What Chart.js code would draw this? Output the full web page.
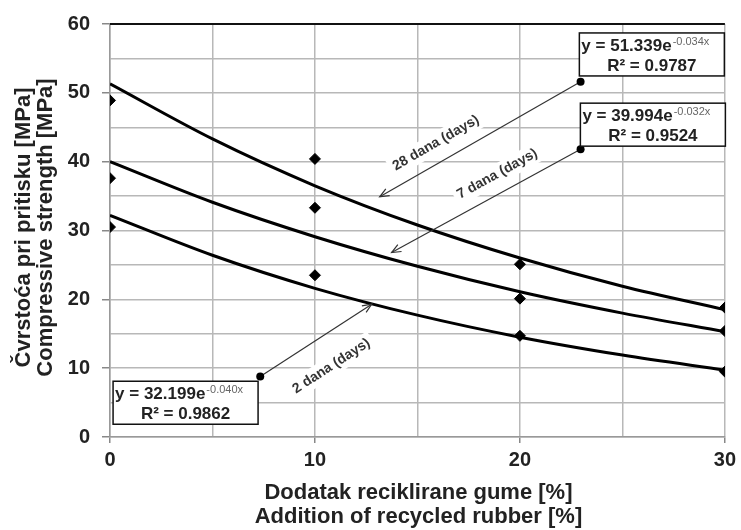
<!DOCTYPE html>
<html>
<head>
<meta charset="utf-8">
<script src="https://cdn.jsdelivr.net/npm/chart.js@4/dist/chart.umd.min.js"></script>
<style>
  body { margin: 0; background: #fff; }
  #wrap { width: 741px; height: 530px; }
</style>
</head>
<body>
<div id="wrap"><canvas id="rubber-chart" width="741" height="530"></canvas></div>
<script>
// rubber dosage [%] and measured strengths [MPa]
const rubber = [0, 10, 20, 30];
const days28 = [48.9, 40.4, 25.1, 18.8];
const days7 = [37.6, 33.3, 20.1, 15.4];
const days2 = [30.5, 23.5, 14.7, 9.5];

// trend lines
const trendX = [0, 5, 10, 15, 20, 25, 30];
const trend28 = [51.3, 43.3, 36.5, 30.8, 26.0, 21.9, 18.5];
const trend7 = [40.0, 34.1, 29.1, 24.8, 21.1, 18.0, 15.3];
const trend2 = [32.2, 26.4, 21.6, 17.7, 14.5, 11.9, 9.7];

const yTicks = [0, 10, 20, 30, 40, 50, 60];
const xTicks = [0, 10, 20, 30];

const yTitle = ["Čvrstoća pri pritisku [MPa]", "Compressive strength [MPa]"];
const xTitle = ["Dodatak reciklirane gume [%]", "Addition of recycled rubber [%]"];

// equation boxes + arrows (positions in data units)
const notes = [
  { eq: "y = 51.339e", exp: "-0.034x", r2: "R² = 0.9787", box: [22.9, 58.7], dot: [22.96, 51.6], head: [13.16, 34.9], label: "28 dana (days)", labelAt: [15.9, 42.7], angle: -30 },
  { eq: "y = 39.994e", exp: "-0.032x", r2: "R² = 0.9524", box: [22.95, 48.5], dot: [22.96, 41.8], head: [13.74, 26.8], label: "7 dana (days)", labelAt: [18.9, 38.2], angle: -29 },
  { eq: "y = 32.199e", exp: "-0.040x", r2: "R² = 0.9862", box: [0.15, 8.1], dot: [7.33, 8.8], head: [12.77, 19.3], label: "2 dana (days)", labelAt: [10.8, 10.3], angle: -33 }
];

const FONT = '"Liberation Sans", Arial, sans-serif';

function pts(xs, ys) {
  return xs.map((x, i) => ({ x: x, y: ys[i] }));
}

function markerSet(data) {
  return {
    data: pts(rubber, data),
    showLine: false,
    pointStyle: "rectRot",
    pointRadius: 5.5,
    pointBackgroundColor: "#000",
    pointBorderColor: "#000",
    order: 0
  };
}

function trendSet(data) {
  return {
    data: pts(trendX, data),
    showLine: true,
    borderColor: "#000",
    borderWidth: 3,
    pointRadius: 0,
    cubicInterpolationMode: "monotone",
    fill: false,
    order: 1
  };
}

// arrows, labels and equation boxes
const notesPlugin = {
  id: "notes",
  afterDatasetsDraw(chart) {
    const c = chart.ctx, xs = chart.scales.x, ys = chart.scales.y;
    const area = chart.chartArea;
    c.save();
    // dark top border
    c.strokeStyle = "#111";
    c.lineWidth = 2;
    c.beginPath();
    c.moveTo(area.left, area.top);
    c.lineTo(area.right, area.top);
    c.stroke();

    notes.forEach(n => {
      const dx = xs.getPixelForValue(n.dot[0]), dy = ys.getPixelForValue(n.dot[1]);
      const hx = xs.getPixelForValue(n.head[0]), hy = ys.getPixelForValue(n.head[1]);

      // rotated label with white background
      const lx = xs.getPixelForValue(n.labelAt[0]), ly = ys.getPixelForValue(n.labelAt[1]);
      c.save();
      c.translate(lx, ly);
      c.rotate(n.angle * Math.PI / 180);
      c.font = "bold 14px " + FONT;
      const w = c.measureText(n.label).width;
      c.fillStyle = "#fff";
      c.fillRect(-w / 2 - 4, -10, w + 8, 20);
      c.fillStyle = "#333";
      c.textAlign = "center";
      c.textBaseline = "middle";
      c.fillText(n.label, 0, 0);
      c.restore();

      // leader line
      c.strokeStyle = "#333";
      c.lineWidth = 1.2;
      c.beginPath();
      c.moveTo(dx, dy);
      c.lineTo(hx, hy);
      c.stroke();
      const a = Math.atan2(hy - dy, hx - dx);
      c.beginPath();
      c.moveTo(hx - 10 * Math.cos(a - 0.4), hy - 10 * Math.sin(a - 0.4));
      c.lineTo(hx, hy);
      c.lineTo(hx - 10 * Math.cos(a + 0.4), hy - 10 * Math.sin(a + 0.4));
      c.stroke();
      c.fillStyle = "#000";
      c.beginPath();
      c.arc(dx, dy, 4, 0, Math.PI * 2);
      c.fill();

      // equation box
      const bx = xs.getPixelForValue(n.box[0]), by = ys.getPixelForValue(n.box[1]);
      const bw = 145, bh = 43;
      c.fillStyle = "#fff";
      c.fillRect(bx, by, bw, bh);
      c.strokeStyle = "#111";
      c.lineWidth = 1.5;
      c.strokeRect(bx, by, bw, bh);
      c.fillStyle = "#222";
      c.textBaseline = "middle";
      c.textAlign = "left";
      c.font = "bold 17px " + FONT;
      c.fillText(n.eq, bx + 2, by + 13);
      const ew = c.measureText(n.eq).width;
      c.font = "11px " + FONT;
      c.fillStyle = "#666";
      c.fillText(n.exp, bx + 2 + ew + 1, by + 9);
      c.fillStyle = "#222";
      c.font = "bold 17px " + FONT;
      c.textAlign = "center";
      c.fillText(n.r2, bx + bw / 2, by + 33);
    });
    c.restore();
  },
  afterDraw(chart) {
    const c = chart.ctx, area = chart.chartArea;
    c.save();
    c.fillStyle = "#222";
    c.font = "bold 22px " + FONT;
    c.textAlign = "center";
    c.textBaseline = "middle";
    const cx = (area.left + area.right) / 2 + 1;
    c.fillText(xTitle[0], cx, 493);
    c.fillText(xTitle[1], cx, 517);
    c.translate(0, (area.top + area.bottom) / 2 - 3);
    c.rotate(-Math.PI / 2);
    c.fillText(yTitle[0], 0, 24);
    c.fillText(yTitle[1], 0, 46);
    c.restore();
  }
};

const ctx = document.getElementById("rubber-chart").getContext("2d");
new Chart(ctx, {
  type: "scatter",
  data: {
    datasets: [
      markerSet(days28),
      markerSet(days7),
      markerSet(days2),
      trendSet(trend28),
      trendSet(trend7),
      trendSet(trend2)
    ]
  },
  options: {
    responsive: false,
    animation: false,
    layout: { padding: { left: 0, top: 21, right: 13, bottom: 0 } },
    plugins: {
      legend: { display: false },
      tooltip: { enabled: false }
    },
    scales: {
      x: {
        type: "linear",
        min: 0,
        max: 30,
        afterFit: s => { s.height = 93; },
        afterBuildTicks: s => { s.ticks = trendX.map(v => ({ value: v })); },
        grid: {
          color: "#b8b8b8",
          lineWidth: 1.5,
          tickLength: 6,
          tickColor: c => (xTicks.includes(c.tick.value) ? "#888" : "rgba(0,0,0,0)")
        },
        border: { color: "#999", width: 1.5 },
        ticks: {
          padding: 5,
          color: "#222",
          font: { family: FONT, size: 20, weight: "bold" },
          maxRotation: 0,
          callback: v => (xTicks.includes(v) ? String(v) : "")
        }
      },
      y: {
        min: 0,
        max: 60,
        afterFit: s => { s.width = 110; },
        afterBuildTicks: s => {
          const t = [];
          for (let i = 0; i < yTicks.length; i++) {
            t.push({ value: yTicks[i] });
            if (i < yTicks.length - 1) t.push({ value: yTicks[i] + 5 });
          }
          s.ticks = t;
        },
        grid: {
          color: "#b8b8b8",
          lineWidth: 1.5,
          tickLength: 8,
          tickColor: c => (yTicks.includes(c.tick.value) ? "#888" : "rgba(0,0,0,0)")
        },
        border: { color: "#999", width: 1.5 },
        ticks: {
          padding: 12,
          color: "#222",
          font: { family: FONT, size: 20, weight: "bold" },
          callback: v => (yTicks.includes(v) ? String(v) : "")
        }
      }
    }
  },
  plugins: [notesPlugin]
});
</script>
</body>
</html>
